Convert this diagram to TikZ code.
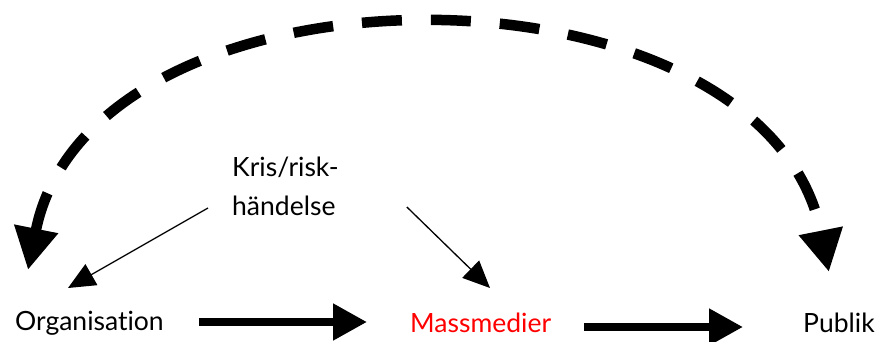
\documentclass[tikz,border=0pt]{standalone}
\usepackage{fontspec}
\setmainfont{Lato}[Ligatures=NoCommon]
\usetikzlibrary{arrows.meta}
\begin{document}
\begin{tikzpicture}[x=1pt,y=-1pt,
  lbl/.style={inner sep=0pt, font=\fontsize{26.5}{39}\selectfont},
  bigarrow/.style={line width=8pt, -{Triangle[length=34pt,width=35pt]}},
  thinarrow/.style={line width=1.3pt, -{Triangle[length=27pt,width=24pt]}},
  arcarrow/.style={line width=10.5pt, dash pattern=on 40pt off 29pt,
    {Triangle[length=42pt,width=42pt]}-{Triangle[length=42pt,width=42pt]}}]
\useasboundingbox (0,0) rectangle (876,342);
\node[lbl, anchor=base west] (org) at (15,330) {Organisation};
\node[lbl, anchor=base west, text=red] (mm) at (410,332) {Massmedier};
\node[lbl, anchor=base west] (pub) at (803,332) {Publik};
\node[lbl, anchor=north west, align=left] (kris) at (232,157) {Kris/risk-\\händelse};
\coordinate (arcL) at ([shift={(13,-60)}]org.base west);
\coordinate (arcR) at ([shift={(-10,-60)}]pub.base);
\draw[bigarrow] ([shift={(35,-8)}]org.base east) -- ([shift={(-43,-10)}]mm.base west);
\draw[bigarrow] ([shift={(33,-5)}]mm.base east) -- ([shift={(-60,-5)}]pub.base west);
\draw[thinarrow] ([shift={(-24,51)}]kris.north west) -- ([shift={(53,-42)}]org.base west);
\draw[thinarrow] ([shift={(68,50)}]kris.north east) -- ([shift={(80,-44)}]mm.base west);
\draw[arcarrow] (arcL) .. controls +(64,-322) and +(-64,-322) .. (arcR);
\end{tikzpicture}
\end{document}
